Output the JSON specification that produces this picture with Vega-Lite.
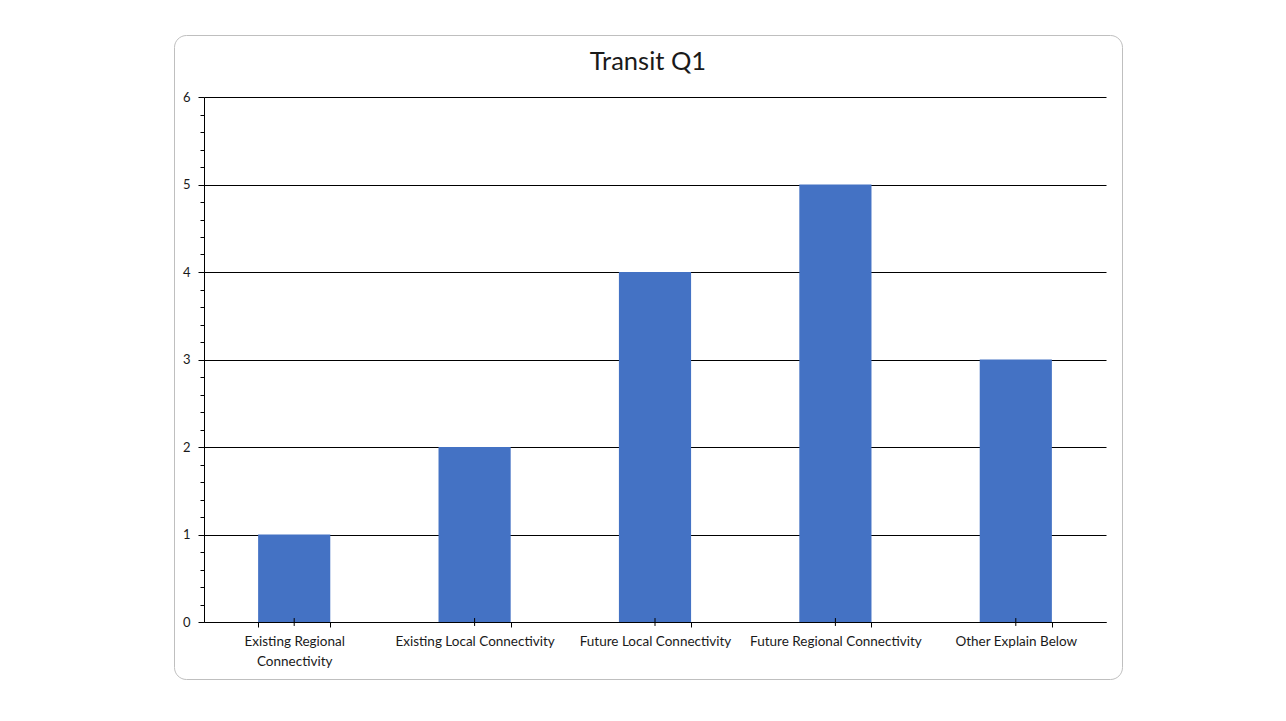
{
  "$schema": "https://vega.github.io/schema/vega-lite/v6.json",
  "width": 948,
  "height": 644,
  "autosize": {"type": "none"},
  "padding": {"left": 174, "top": 35, "right": 164, "bottom": 42},
  "background": "white",
  "title": {
    "text": "Transit Q1",
    "font": "Lato",
    "fontSize": 25.5,
    "fontWeight": "normal",
    "color": "#1a1a1a",
    "anchor": "middle",
    "frame": "group",
    "baseline": "middle",
    "offset": -52
  },
  "data": {
    "values": [
      {"category": "Existing Regional Connectivity", "value": 1},
      {"category": "Existing Local Connectivity", "value": 2},
      {"category": "Future Local Connectivity", "value": 4},
      {"category": "Future Regional Connectivity", "value": 5},
      {"category": "Other Explain Below", "value": 3}
    ]
  },
  "layer": [
    {
      "mark": {"type": "bar", "color": "#4472C4"},
      "encoding": {
        "x": {
          "field": "category",
          "type": "nominal",
          "sort": null,
          "scale": {"type": "band", "range": [30, 932], "paddingInner": 0.6, "paddingOuter": 0.3},
          "axis": {
            "title": null,
            "orient": "bottom",
            "offset": -57,
            "tickBand": "extent",
            "tickSize": 5,
            "tickColor": "#000000",
            "domainColor": "#000000",
            "labelAngle": 0,
            "labelPadding": 7,
            "labelFont": "Lato",
            "labelFontSize": 13.5,
            "labelColor": "#1a1a1a",
            "labelLimit": 0,
            "labelLineHeight": 20,
            "labelBaseline": "top",
            "labelExpr": "datum.value == 'Existing Regional Connectivity' ? ['Existing Regional', 'Connectivity'] : datum.label",
            "zindex": 1
          }
        },
        "y": {
          "field": "value",
          "type": "quantitative",
          "scale": {"domain": [0, 6], "range": [587, 62], "nice": false, "zero": true},
          "axis": {
            "title": null,
            "orient": "left",
            "offset": -30,
            "values": [0, 0.2, 0.4, 0.6, 0.8, 1, 1.2, 1.4, 1.6, 1.8, 2, 2.2, 2.4, 2.6, 2.8, 3, 3.2, 3.4, 3.6, 3.8, 4, 4.2, 4.4, 4.6, 4.8, 5, 5.2, 5.4, 5.6, 5.8, 6],
            "labelExpr": "abs(datum.value - round(datum.value)) < 0.001 ? format(datum.value, 'd') : ''",
            "labelOverlap": false,
            "grid": true,
            "gridColor": "#000000",
            "gridWidth": 1,
            "gridOpacity": {"condition": {"test": "abs(datum.value - round(datum.value)) < 0.001", "value": 1}, "value": 0},
            "tickSize": {"condition": {"test": "abs(datum.value - round(datum.value)) < 0.001", "value": 6}, "value": 4},
            "tickColor": "#000000",
            "domainColor": "#000000",
            "labelPadding": 8,
            "labelFont": "Lato",
            "labelFontSize": 13,
            "labelColor": "#1a1a1a",
            "zindex": 0
          }
        }
      }
    },
    {
      "mark": {"type": "rule", "color": "#000000", "strokeWidth": 1},
      "encoding": {
        "x": {
          "field": "category",
          "type": "nominal",
          "sort": null,
          "axis": {
            "title": null,
            "orient": "bottom",
            "offset": -57,
            "tickBand": "extent",
            "tickSize": 5,
            "tickColor": "#000000",
            "domainColor": "#000000",
            "labelAngle": 0,
            "labelPadding": 7,
            "labelFont": "Lato",
            "labelFontSize": 13.5,
            "labelColor": "#1a1a1a",
            "labelLimit": 0,
            "labelLineHeight": 20,
            "labelBaseline": "top",
            "labelExpr": "datum.value == 'Existing Regional Connectivity' ? ['Existing Regional', 'Connectivity'] : datum.label",
            "zindex": 1
          }
        },
        "y": {
          "datum": -0.045,
          "type": "quantitative",
          "axis": {
            "title": null,
            "orient": "left",
            "offset": -30,
            "values": [0, 0.2, 0.4, 0.6, 0.8, 1, 1.2, 1.4, 1.6, 1.8, 2, 2.2, 2.4, 2.6, 2.8, 3, 3.2, 3.4, 3.6, 3.8, 4, 4.2, 4.4, 4.6, 4.8, 5, 5.2, 5.4, 5.6, 5.8, 6],
            "labelExpr": "abs(datum.value - round(datum.value)) < 0.001 ? format(datum.value, 'd') : ''",
            "labelOverlap": false,
            "grid": true,
            "gridColor": "#000000",
            "gridWidth": 1,
            "gridOpacity": {"condition": {"test": "abs(datum.value - round(datum.value)) < 0.001", "value": 1}, "value": 0},
            "tickSize": {"condition": {"test": "abs(datum.value - round(datum.value)) < 0.001", "value": 6}, "value": 4},
            "tickColor": "#000000",
            "domainColor": "#000000",
            "labelPadding": 8,
            "labelFont": "Lato",
            "labelFontSize": 13,
            "labelColor": "#1a1a1a",
            "zindex": 0
          }
        },
        "y2": {"datum": 0.045}
      }
    }
  ],
  "config": {
    "view": {"stroke": "#bfbfbf", "strokeWidth": 1, "cornerRadius": 12, "fill": "white"}
  }
}
